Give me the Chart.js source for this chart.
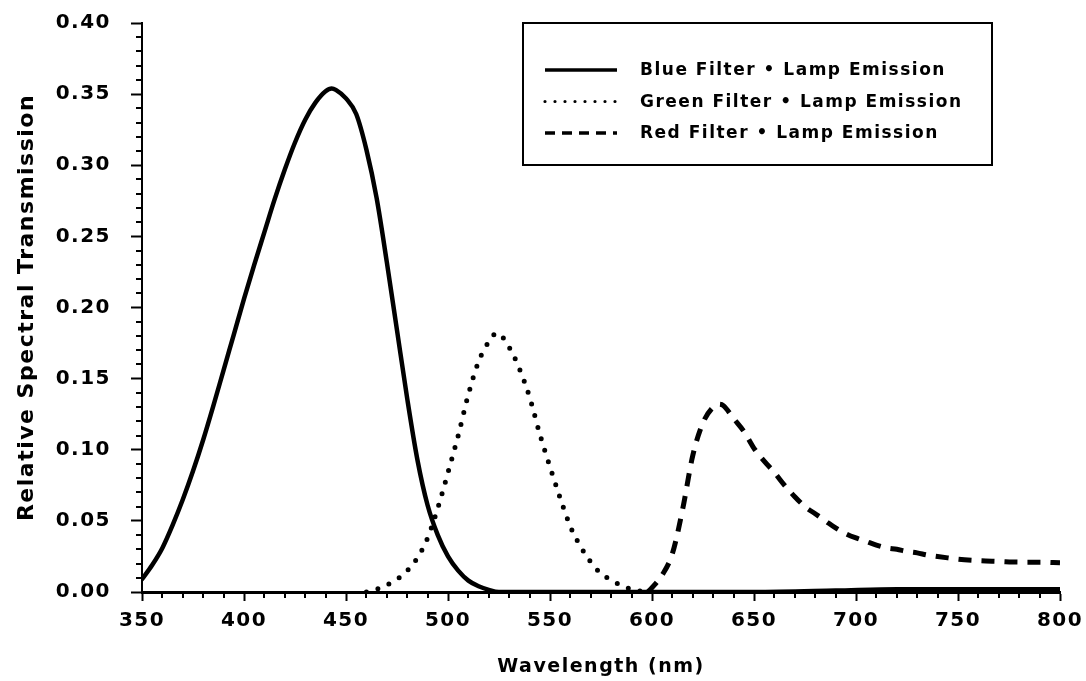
<!DOCTYPE html>
<html>
<head>
<meta charset="utf-8">
<title>Relative Spectral Transmission</title>
<script src="https://cdn.jsdelivr.net/npm/chart.js@4.4.1/dist/chart.umd.min.js"></script>
<style>
  html, body { margin: 0; padding: 0; background: #fff; }
  canvas { display: block; }
</style>
</head>
<body>
<canvas id="spectra" width="1086" height="681"></canvas>
<script>
// Filter x lamp emission spectra, wavelength in nm
const blueWavelength = [350, 355, 360, 365, 370, 375, 380, 385, 390, 395, 400, 405, 410, 415, 420, 425, 430, 435, 440, 443, 445, 450, 455, 460, 465, 470, 475, 480, 485, 490, 495, 500, 505, 510, 515, 520, 525, 560, 600, 650, 690, 720, 760, 800];
const blueTransmission = [0.009, 0.019, 0.031, 0.047, 0.065, 0.085, 0.107, 0.131, 0.156, 0.181, 0.206, 0.230, 0.253, 0.276, 0.297, 0.316, 0.332, 0.344, 0.352, 0.354, 0.353, 0.347, 0.336, 0.311, 0.277, 0.232, 0.184, 0.136, 0.093, 0.061, 0.040, 0.025, 0.015, 0.008, 0.004, 0.0015, 0, 0, 0, 0, 0.001, 0.002, 0.002, 0.002];

const greenWavelength = [460, 465, 470, 475, 480, 485, 490, 495, 500, 505, 510, 515, 520, 524, 530, 535, 540, 545, 550, 555, 560, 565, 570, 575, 580, 585, 590, 595, 600];
const greenTransmission = [0, 0.002, 0.005, 0.009, 0.015, 0.024, 0.038, 0.059, 0.084, 0.110, 0.139, 0.162, 0.176, 0.182, 0.172, 0.157, 0.137, 0.111, 0.088, 0.066, 0.046, 0.032, 0.021, 0.013, 0.0085, 0.0045, 0.002, 0.0005, 0];

const redWavelength = [598, 600, 605, 610, 615, 620, 625, 630, 633, 635, 640, 645, 650, 655, 660, 665, 670, 675, 680, 685, 690, 695, 700, 705, 710, 715, 720, 725, 730, 735, 740, 745, 750, 760, 770, 780, 790, 800];
const redTransmission = [0, 0.003, 0.012, 0.027, 0.058, 0.096, 0.119, 0.130, 0.132, 0.131, 0.122, 0.113, 0.101, 0.092, 0.084, 0.075, 0.067, 0.060, 0.055, 0.050, 0.045, 0.041, 0.038, 0.0355, 0.033, 0.031, 0.030, 0.0285, 0.0275, 0.026, 0.025, 0.024, 0.023, 0.022, 0.0215, 0.021, 0.021, 0.0205];

const seriesLabels = ['Blue Filter \u2022 Lamp Emission', 'Green Filter \u2022 Lamp Emission', 'Red Filter \u2022 Lamp Emission'];
const xAxisTitle = 'Wavelength (nm)';
const yAxisTitle = 'Relative Spectral Transmission';

const FONT = '"DejaVu Sans", "Liberation Sans", Arial, sans-serif';
const INK = '#000';

function toPoints(xs, ys) {
  return xs.map((x, i) => ({ x: x, y: ys[i] }));
}

// Short-sample line styles for the key box
const keyStyles = [
  { dash: [], width: 3.5, cap: 'butt' },
  { dash: [0, 10], width: 3.2, cap: 'round' },
  { dash: [10, 7], width: 3.5, cap: 'butt' }
];

// Wider glyph tracking for all canvas text
const tracking = {
  id: 'tracking',
  beforeUpdate(chart) { chart.ctx.letterSpacing = '1.5px'; },
  beforeDraw(chart) { chart.ctx.letterSpacing = '1.5px'; }
};

// Minor tick marks: every 10 nm and every 0.01
const minorTicks = {
  id: 'minorTicks',
  afterDraw(chart) {
    const { ctx, chartArea: a, scales: { x, y } } = chart;
    ctx.save();
    ctx.strokeStyle = INK;
    ctx.lineWidth = 2;
    ctx.beginPath();
    for (let v = 360; v < 800; v += 10) {
      if (v % 50 === 0) continue;
      const px = Math.round(x.getPixelForValue(v));
      ctx.moveTo(px, a.bottom);
      ctx.lineTo(px, a.bottom + 6);
    }
    for (let i = 1; i < 40; i++) {
      if (i % 5 === 0) continue;
      const py = Math.round(y.getPixelForValue(i / 100));
      ctx.moveTo(a.left - 6, py);
      ctx.lineTo(a.left, py);
    }
    ctx.stroke();
    ctx.restore();
  }
};

// Framed key in the upper right of the plot
const keyBox = {
  id: 'keyBox',
  afterDraw(chart) {
    const { ctx, chartArea: a } = chart;
    const right = a.right - 68;
    const left = right - 469;
    const top = a.top;
    const bottom = top + 142;
    ctx.save();
    ctx.fillStyle = '#fff';
    ctx.fillRect(left, top, right - left, bottom - top);
    ctx.strokeStyle = INK;
    ctx.lineWidth = 2;
    ctx.setLineDash([]);
    ctx.strokeRect(left, top, right - left, bottom - top);
    chart.data.datasets.forEach((ds, i) => {
      const rowY = top + 47 + i * 31.5;
      const st = keyStyles[i];
      ctx.beginPath();
      ctx.lineWidth = st.width;
      ctx.lineCap = st.cap;
      ctx.setLineDash(st.dash);
      ctx.moveTo(left + 22, rowY);
      ctx.lineTo(left + 94, rowY);
      ctx.stroke();
      ctx.setLineDash([]);
      ctx.letterSpacing = '1.5px';
      ctx.font = 'bold 17px ' + FONT;
      ctx.fillStyle = INK;
      ctx.textAlign = 'left';
      ctx.textBaseline = 'middle';
      ctx.fillText(ds.label, left + 117, rowY + 1);
    });
    ctx.restore();
  }
};

const ctx = document.getElementById('spectra').getContext('2d');

new Chart(ctx, {
  type: 'line',
  data: {
    datasets: [
      {
        label: seriesLabels[0],
        data: toPoints(blueWavelength, blueTransmission),
        borderColor: INK,
        borderWidth: 4.5,
        borderCapStyle: 'round',
        borderJoinStyle: 'round',
        pointRadius: 0,
        cubicInterpolationMode: 'monotone',
        fill: false
      },
      {
        label: seriesLabels[1],
        data: toPoints(greenWavelength, greenTransmission),
        borderColor: INK,
        borderWidth: 5,
        borderDash: [0, 12],
        borderCapStyle: 'round',
        pointRadius: 0,
        cubicInterpolationMode: 'monotone',
        fill: false
      },
      {
        label: seriesLabels[2],
        data: toPoints(redWavelength, redTransmission),
        borderColor: INK,
        borderWidth: 5,
        borderDash: [13, 10],
        borderCapStyle: 'butt',
        pointRadius: 0,
        cubicInterpolationMode: 'monotone',
        fill: false
      }
    ]
  },
  options: {
    responsive: false,
    animation: false,
    devicePixelRatio: 1,
    layout: { padding: { left: 0, top: 23, right: 26, bottom: 0 } },
    plugins: {
      legend: { display: false },
      tooltip: { enabled: false }
    },
    scales: {
      x: {
        type: 'linear',
        min: 350,
        max: 800,
        afterFit(scale) {
          scale.height = 89;
          scale.paddingLeft = 0;
          scale.paddingRight = 0;
        },
        ticks: {
          stepSize: 50,
          color: INK,
          padding: 8,
          maxRotation: 0,
          font: { family: FONT, size: 20, weight: 'bold' }
        },
        grid: {
          drawOnChartArea: false,
          drawTicks: true,
          tickLength: 9,
          tickWidth: 2,
          tickColor: INK
        },
        border: { display: true, color: INK, width: 3 },
        title: {
          display: true,
          text: xAxisTitle,
          color: INK,
          font: { family: FONT, size: 19, weight: 'bold' },
          padding: { top: 0, bottom: 3 }
        }
      },
      y: {
        type: 'linear',
        min: 0,
        max: 0.4,
        afterFit(scale) {
          scale.width = 142;
          scale.paddingTop = 0;
          scale.paddingBottom = 0;
        },
        ticks: {
          stepSize: 0.05,
          color: INK,
          padding: 20,
          font: { family: FONT, size: 20, weight: 'bold' },
          callback: (v) => Number(v).toFixed(2)
        },
        grid: {
          drawOnChartArea: false,
          drawTicks: true,
          tickLength: 11,
          tickWidth: 2,
          tickColor: INK
        },
        border: { display: true, color: INK, width: 2 },
        title: {
          display: true,
          text: yAxisTitle,
          color: INK,
          font: { family: FONT, size: 22, weight: 'bold' },
          padding: { top: 14, bottom: 0 }
        }
      }
    }
  },
  plugins: [tracking, minorTicks, keyBox]
});
</script>
</body>
</html>
